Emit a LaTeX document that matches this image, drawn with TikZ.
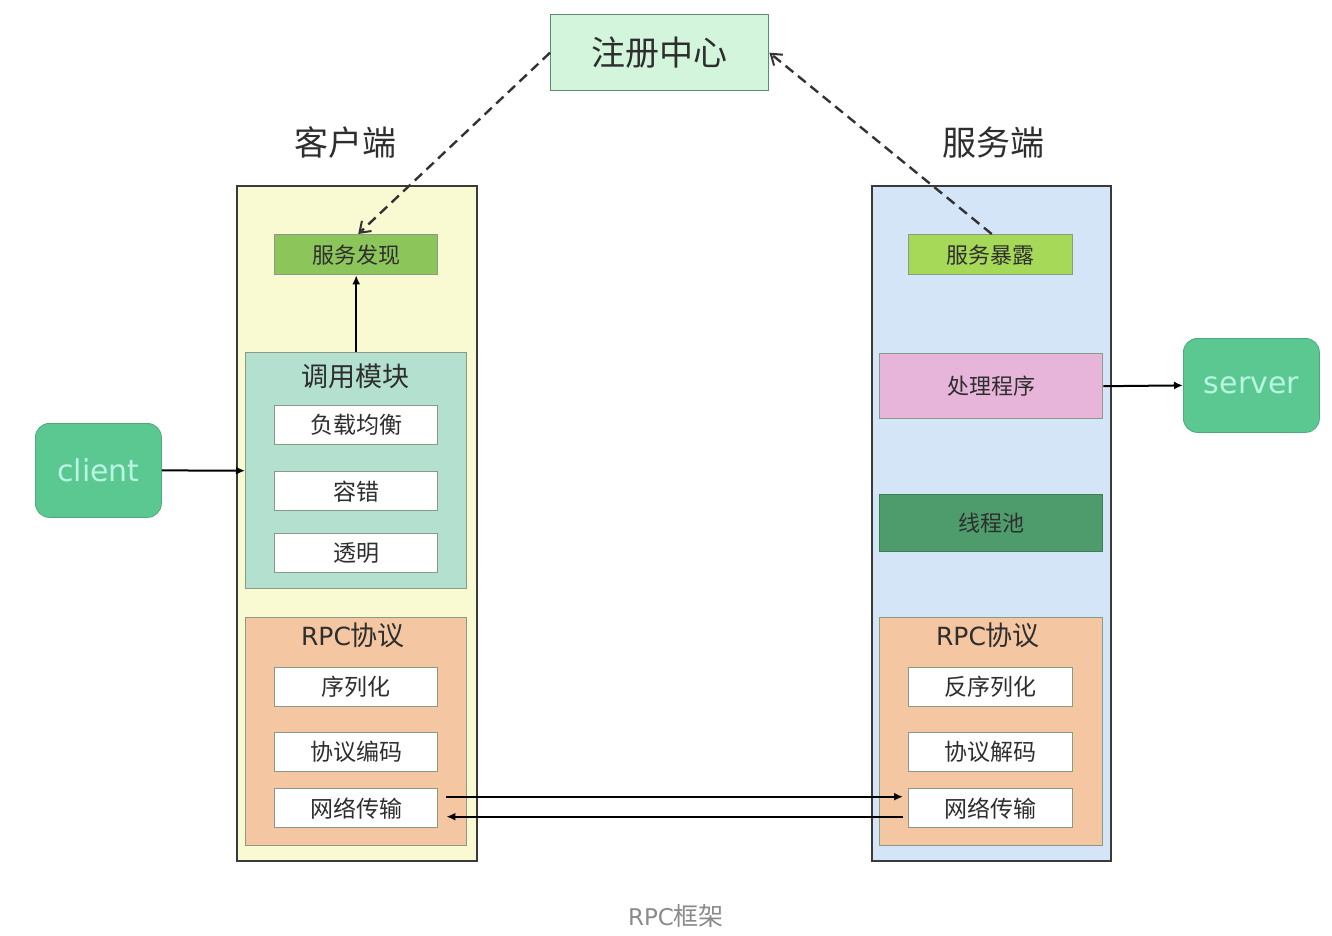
\documentclass[tikz,border=0pt]{standalone}
\usepackage{fontspec}
\setmainfont{Noto Sans CJK SC}
\newfontfamily\dv{DejaVu Sans}
\usetikzlibrary{arrows.meta}
\definecolor{regfill}{HTML}{D2F5DC}
\definecolor{regdraw}{HTML}{5E8C6E}
\definecolor{cfill}{HTML}{FAFAD2}
\definecolor{sfill}{HTML}{D5E5F8}
\definecolor{boxdraw}{HTML}{3A3A3A}
\definecolor{discfill}{HTML}{8CC65A}
\definecolor{expfill}{HTML}{A6D957}
\definecolor{callfill}{HTML}{B3E0CF}
\definecolor{rpcfill}{HTML}{F4C6A2}
\definecolor{procfill}{HTML}{E6B5D9}
\definecolor{poolfill}{HTML}{4E9C6C}
\definecolor{endfill}{HTML}{5CC891}
\definecolor{endtext}{HTML}{B8F5E2}
\definecolor{innerdraw}{HTML}{8A9A86}
\definecolor{txt}{HTML}{2E2E2E}
\definecolor{cap}{HTML}{8A8A8A}
\tikzset{
  x=1pt,y=-1pt,
  rbox/.style={draw=#1,line width=1.4pt,inner sep=0pt,anchor=north west},
  whitebox/.style={rbox=innerdraw,fill=white,minimum width=163pt,minimum height=39pt,
     font=\fontsize{23}{27}\selectfont,text=txt},
  container/.style={draw=boxdraw,line width=2.2pt,anchor=north west,inner sep=0pt},
  endpoint/.style={fill=endfill,draw=endfill!85!black,line width=0.8pt,rounded corners=14pt,anchor=north west,
     inner sep=0pt,text=endtext,font=\dv\fontsize{30}{34}\selectfont},
  conn/.style={line width=2pt,draw=black,-{Latex[length=9pt,width=8pt]}},
  dconn/.style={line width=2.4pt,draw=black!80,dash pattern=on 10pt off 6pt,-{Straight Barb[length=10pt,width=14pt,line width=2pt]}},
}
\begin{document}
\begin{tikzpicture}
\useasboundingbox (0,0) rectangle (1332,936);
% registry
\node[rbox=regdraw,fill=regfill,minimum width=218pt,minimum height=76pt,
  font=\fontsize{34}{38}\selectfont,text=txt] (reg) at (550,14) {注册中心};
% titles
\node[font=\fontsize{34}{38}\selectfont,text=txt] (ctitle) at (345,143) {客户端};
\node[font=\fontsize{34}{38}\selectfont,text=txt] (stitle) at (993,143) {服务端};
% containers
\node[container,fill=cfill,minimum width=240pt,minimum height=675pt] (cbox) at (236,185) {};
\node[container,fill=sfill,minimum width=239pt,minimum height=675pt] (sbox) at (871,185) {};
% client side
\node[rbox=innerdraw,fill=discfill,minimum width=163pt,minimum height=40pt,
  font=\fontsize{22}{26}\selectfont,text=txt] (disc) at (274,234) {服务发现};
\node[rbox=innerdraw,fill=callfill,minimum width=221pt,minimum height=236pt] (call) at (245,352) {};
\node[font=\fontsize{27}{31}\selectfont,text=txt] (calltitle) at (355,376) {调用模块};
\node[whitebox] (lb) at (274,405) {负载均衡};
\node[whitebox] (ft) at (274,471) {容错};
\node[whitebox] (tr) at (274,533) {透明};
\node[rbox=innerdraw,fill=rpcfill,minimum width=221pt,minimum height=228pt] (crpc) at (245,617) {};
\node[font=\fontsize{27}{31}\selectfont,text=txt] (crpctitle) at (353,635) {{\dv\fontsize{25}{29}\selectfont RPC}协议};
\node[whitebox] (ser) at (274,667) {序列化};
\node[whitebox] (enc) at (274,732) {协议编码};
\node[whitebox] (cnet) at (274,788) {网络传输};
% server side
\node[rbox=innerdraw,fill=expfill,minimum width=164pt,minimum height=40pt,
  font=\fontsize{22}{26}\selectfont,text=txt] (exp) at (908,234) {服务暴露};
\node[rbox=innerdraw,fill=procfill,minimum width=223pt,minimum height=65pt,
  font=\fontsize{22}{26}\selectfont,text=txt] (proc) at (879,353) {处理程序};
\node[rbox=poolfill!80!black,fill=poolfill,minimum width=223pt,minimum height=57pt,
  font=\fontsize{22}{26}\selectfont,text=txt] (pool) at (879,494) {线程池};
\node[rbox=innerdraw,fill=rpcfill,minimum width=223pt,minimum height=228pt] (srpc) at (879,617) {};
\node[font=\fontsize{27}{31}\selectfont,text=txt] (srpctitle) at (988,635) {{\dv\fontsize{25}{29}\selectfont RPC}协议};
\node[whitebox,minimum width=164pt] (deser) at (908,667) {反序列化};
\node[whitebox,minimum width=164pt] (dec) at (908,732) {协议解码};
\node[whitebox,minimum width=164pt] (snet) at (908,788) {网络传输};
% endpoints
\node[endpoint,minimum width=126pt,minimum height=94pt] (client) at (35,423) {client};
\node[endpoint,minimum width=136pt,minimum height=94pt] (server) at (1183,338) {server};
% caption
\node[font=\fontsize{25}{29}\selectfont,text=cap] (caption) at (676,916) {{\dv\fontsize{23}{27}\selectfont RPC}框架};
% connectors
\draw[conn] (client.east) -- (call.west);
\draw[conn] (call.north) -- (disc.south);
\draw[conn] (proc.east) -- (server.west);
\draw[conn] ([xshift=8pt,yshift=11.5pt]cnet.east) -- ([xshift=-5pt,yshift=11.5pt]snet.west);
\draw[conn] ([xshift=-5pt,yshift=-8.5pt]snet.west) -- ([xshift=8pt,yshift=-8.5pt]cnet.east);
\draw[dconn] (reg.west) -- ([xshift=2pt]disc.north);
\draw[dconn] ([xshift=1pt]exp.north) -- (reg.east);
\end{tikzpicture}
\end{document}
